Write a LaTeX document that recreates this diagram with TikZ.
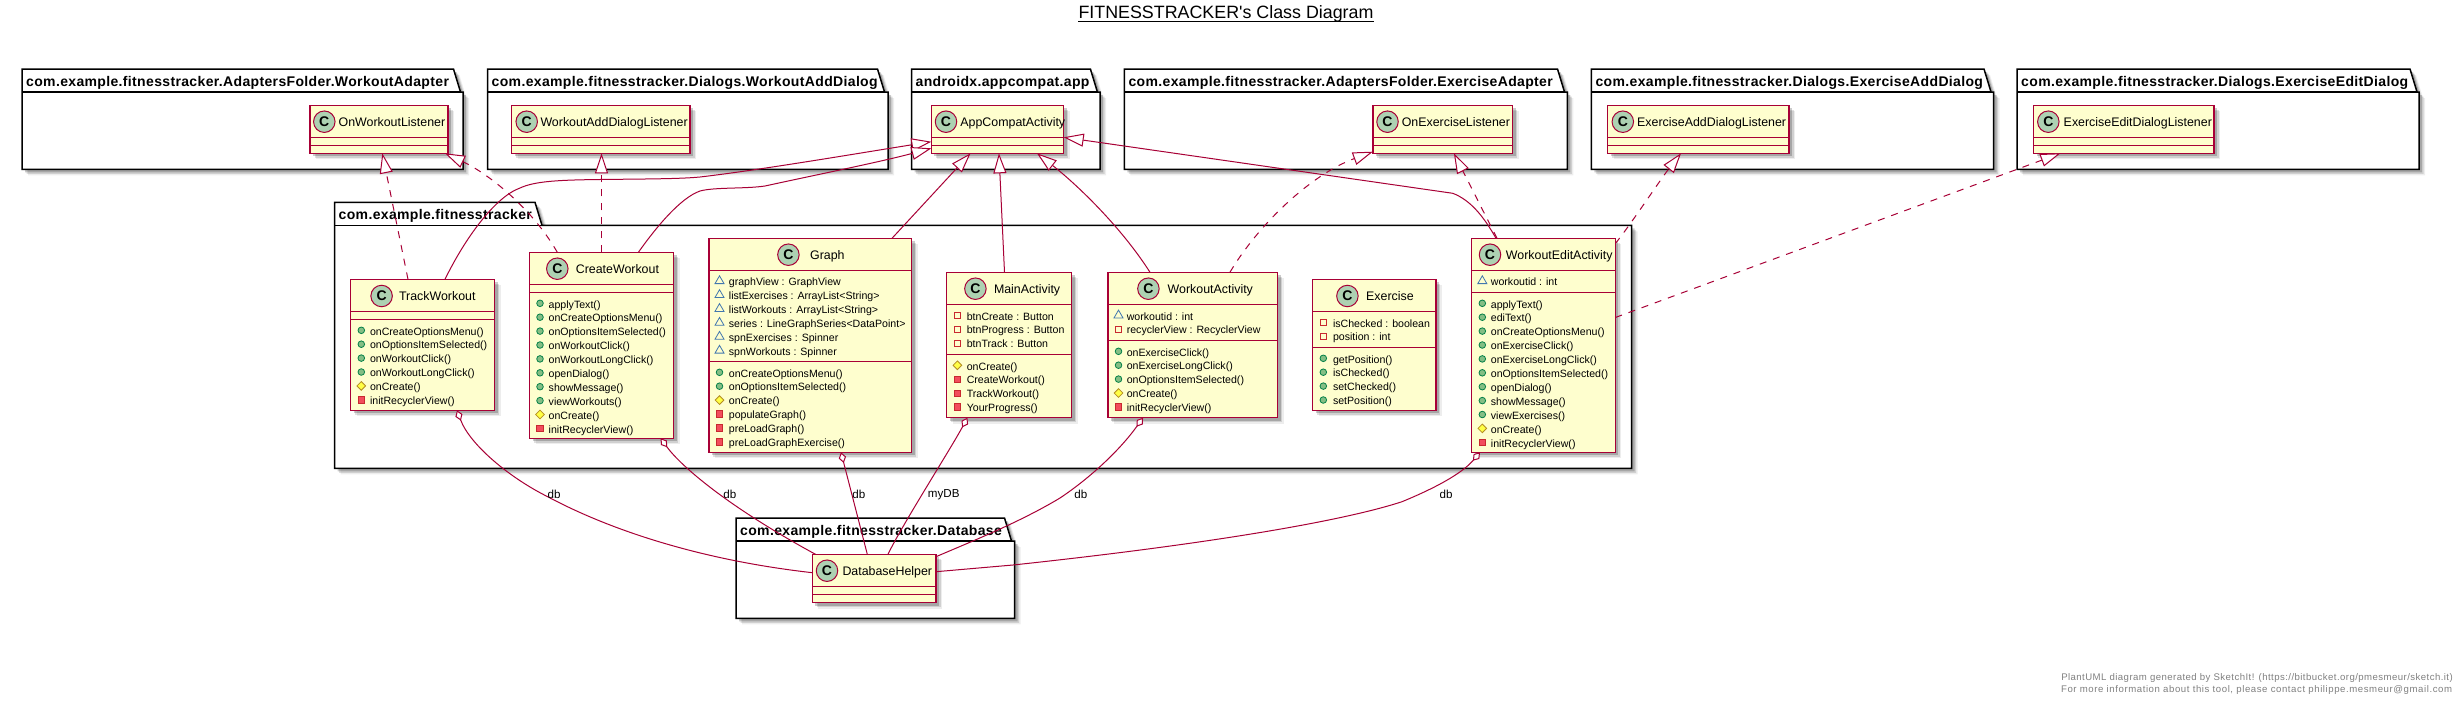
\documentclass[tikz,border=0pt]{standalone}
\usepackage{fontspec}
\setmainfont{Liberation Sans}
\newfontfamily\pkgfont[LetterSpace=2.5]{Liberation Sans}
\newfontfamily\footfont[LetterSpace=6]{Liberation Sans}
\newfontfamily\footfontb[LetterSpace=4.6]{Liberation Sans}
\usetikzlibrary{arrows.meta,shadows,fit,shapes.geometric}
\definecolor{crim}{HTML}{A80036}
\definecolor{clsfill}{HTML}{FEFECE}
\definecolor{spot}{HTML}{ADD1B2}
\tikzset{
  softshadow/.style={general shadow={shadow xshift=6pt,shadow yshift=-6pt,fill=black,opacity=.07},
    general shadow={shadow xshift=4.5pt,shadow yshift=-4.5pt,fill=black,opacity=.12},
    general shadow={shadow xshift=3pt,shadow yshift=-3pt,fill=black,opacity=.2}},
  pkgshape/.style={draw=black,line width=1.5pt,fill=white,line join=miter,softshadow},
  pkgrule/.style={draw=black,line width=1.5pt},
  pkglabel/.style={anchor=base west,inner sep=0pt,font=\fontsize{14}{16}\pkgfont\bfseries},
  classbox/.style={draw=crim,line width=1.5pt,fill=clsfill,inner sep=0pt,outer sep=0pt,softshadow},
  classrule/.style={draw=crim,line width=1.5pt},
  spoticon/.style={circle,draw=crim,line width=1pt,fill=spot,minimum size=21.5pt,inner sep=0pt,font=\fontsize{14}{16}\selectfont\bfseries},
  classtitle/.style={anchor=base west,inner sep=0pt,font=\fontsize{12.4}{14}\selectfont},
  memtext/.style={anchor=base west,inner sep=0pt,font=\fontsize{10.6}{12}\selectfont},
  linklabel/.style={inner sep=0pt,font=\fontsize{11.6}{13}\selectfont},
  iconpub/.style={circle,draw={rgb,255:red,3;green,128;blue,72},fill={rgb,255:red,132;green,190;blue,132},line width=.8pt,minimum size=6.6pt,inner sep=0pt},
  iconprot/.style={diamond,draw={rgb,255:red,179;green,141;blue,34},fill={rgb,255:red,255;green,255;blue,68},line width=.8pt,minimum size=9pt,inner sep=0pt},
  iconpriv/.style={rectangle,draw={rgb,255:red,200;green,41;blue,48},fill={rgb,255:red,242;green,77;blue,92},line width=.8pt,minimum size=6.4pt,inner sep=0pt},
  iconprivattr/.style={rectangle,draw={rgb,255:red,200;green,41;blue,48},line width=.8pt,minimum size=6.4pt,inner sep=0pt},
  iconpkg/.style={regular polygon,regular polygon sides=3,draw={rgb,255:red,65;green,119;blue,175},line width=.8pt,minimum size=10.4pt,inner sep=0pt},
  link/.style={draw=crim,line width=1pt},
  dashlink/.style={link,dash pattern=on 7pt off 7pt},
  ext/.style={-{Triangle[length=20pt,width=13pt,fill=white,line width=1pt,sep=0pt]}},
  agg/.style={{Diamond[length=11pt,width=7.5pt,fill=white,line width=1pt,sep=0pt]}-},
}
% package: name, x0, ytop, tab right, x1, y1, label
\newcommand{\pkgbox}[7]{%
  \draw[pkgshape] (#2,#3) -- (#4,#3) -- (#4+7,#3+23) -- (#5,#3+23) -- (#5,#6) -- (#2,#6) -- cycle;
  \draw[pkgrule] (#2,#3+23) -- (#4+7,#3+23);
  \node[pkglabel] (#1) at (#2+4,#3+17) {#7};
}
% class: name,x0,y0,x1,y1
\newcommand{\cls}[5]{\node[classbox,fit={(#2,#3)(#4,#5)}] (#1) {};}
\newcommand{\sepline}[2]{\draw[classrule] (#1.west |- 0,#2) -- (#1.east |- 0,#2);}
% head: name, circle x, centre y, title x, title
\newcommand{\heading}[5]{%
  \node[spoticon] (#1-spot) at (#2,#3) {C};
  \node[classtitle] (#1-title) at (#4,#3+4.3) {#5};
}
% members: name, icon x, text x, first centre y, list kind/text
\newcommand{\members}[5]{%
  \foreach \kd/\mtxt [count=\rr] in {#5} {
    \pgfmathsetmacro\yy{#4+(\rr-1)*13.9}
    \node[icon\kd] (#1-i\rr) at (#2,\yy-1) {};
    \node[memtext] (#1-t\rr) at (#3,\yy+3.7) {\mtxt};
  }
}
\begin{document}
\begin{tikzpicture}[x=1pt,y=-1pt]
\useasboundingbox (0,0) rectangle (2464,704);
\fill[white] (0,0) rectangle (2464,704);

\node[anchor=base,inner sep=0pt,font=\fontsize{17.85}{20}\selectfont] (title) at (1226,18.5) {FITNESSTRACKER\textquotesingle s Class Diagram};
\draw[line width=1pt] ([yshift=-3pt]title.base west) -- ([yshift=-3pt]title.base east);

% packages
\pkgbox{pA}{22}{69}{453.5}{463}{169.3}{com.example.fitnesstracker.AdaptersFolder.WorkoutAdapter}
\pkgbox{pB}{487.5}{69}{877.5}{888}{169.3}{com.example.fitnesstracker.Dialogs.WorkoutAddDialog}
\pkgbox{pC}{911.5}{69}{1090.4}{1100}{169.3}{androidx.appcompat.app}
\pkgbox{pD}{1124.4}{69}{1557.5}{1567.4}{169.3}{com.example.fitnesstracker.AdaptersFolder.ExerciseAdapter}
\pkgbox{pE}{1591.4}{69}{1984}{1993.6}{169.3}{com.example.fitnesstracker.Dialogs.ExerciseAddDialog}
\pkgbox{pF}{2017}{69}{2410}{2419}{169.3}{com.example.fitnesstracker.Dialogs.ExerciseEditDialog}
\pkgbox{pM}{334.5}{202.3}{535}{1631.7}{468.3}{com.example.fitnesstracker}
\pkgbox{pG}{736}{518}{1004.5}{1014.7}{618.3}{com.example.fitnesstracker.Database}

% top classes
\cls{owl}{310}{105.3}{448}{153.3}\sepline{owl}{137.3}\sepline{owl}{145.3}
\heading{owl}{324.3}{121.7}{338.4}{OnWorkoutListener}
\cls{wadl}{511.5}{105.3}{690}{153.3}\sepline{wadl}{137.3}\sepline{wadl}{145.3}
\heading{wadl}{526.7}{121.7}{540.3}{WorkoutAddDialogListener}
\cls{aca}{931.4}{105.3}{1063.7}{153.3}\sepline{aca}{137.3}\sepline{aca}{145.3}
\heading{aca}{946}{121.7}{960.2}{AppCompatActivity}
\cls{oel}{1372.8}{105.3}{1512.5}{153.3}\sepline{oel}{137.3}\sepline{oel}{145.3}
\heading{oel}{1387.5}{121.7}{1401.6}{OnExerciseListener}
\cls{eadl}{1607.7}{105.3}{1789}{153.3}\sepline{eadl}{137.3}\sepline{eadl}{145.3}
\heading{eadl}{1622.8}{121.7}{1637}{ExerciseAddDialogListener}
\cls{eedl}{2033.6}{105.3}{2214}{153.3}\sepline{eedl}{137.3}\sepline{eedl}{145.3}
\heading{eedl}{2048.3}{121.7}{2063.5}{ExerciseEditDialogListener}

% main package classes
\cls{track}{350.6}{279.3}{494.5}{410.3}\sepline{track}{311.3}\sepline{track}{319.7}
\heading{track}{381.6}{296}{398.8}{TrackWorkout}
\members{track}{361.3}{369.8}{331.3}{pub/onCreateOptionsMenu(),pub/onOptionsItemSelected(),pub/onWorkoutClick(),pub/onWorkoutLongClick(),prot/onCreate(),priv/initRecyclerView()}

\cls{create}{529.7}{252.3}{673.6}{438.3}\sepline{create}{284.3}\sepline{create}{292.7}
\heading{create}{557.3}{268.7}{575.6}{CreateWorkout}
\members{create}{540}{548.5}{304.3}{pub/applyText(),pub/onCreateOptionsMenu(),pub/onOptionsItemSelected(),pub/onWorkoutClick(),pub/onWorkoutLongClick(),pub/openDialog(),pub/showMessage(),pub/viewWorkouts(),prot/onCreate(),priv/initRecyclerView()}

\cls{graph}{708.8}{238.3}{911.7}{452.3}\sepline{graph}{270.3}\sepline{graph}{361.7}
\heading{graph}{788.4}{254.7}{809.9}{Graph}
\members{graph}{719.5}{728.7}{282}{pkg/graphView : GraphView,pkg/listExercises : ArrayList<String>,pkg/listWorkouts : ArrayList<String>,pkg/series : LineGraphSeries<DataPoint>,pkg/spnExercises : Spinner,pkg/spnWorkouts : Spinner}
\members{graph-m}{719.5}{728.7}{373.3}{pub/onCreateOptionsMenu(),pub/onOptionsItemSelected(),prot/onCreate(),priv/populateGraph(),priv/preLoadGraph(),priv/preLoadGraphExercise()}

\cls{main}{946.7}{272.3}{1071.5}{417.7}\sepline{main}{304.3}\sepline{main}{354.3}
\heading{main}{975.4}{288.7}{993.8}{MainActivity}
\members{main}{957.4}{966.6}{316.3}{privattr/btnCreate : Button,privattr/btnProgress : Button,privattr/btnTrack : Button}
\members{main-m}{957.4}{966.6}{366.3}{prot/onCreate(),priv/CreateWorkout(),priv/TrackWorkout(),priv/YourProgress()}

\cls{wact}{1107.8}{272.3}{1277.7}{417.7}\sepline{wact}{304.3}\sepline{wact}{340.7}
\heading{wact}{1148.4}{288.7}{1167.5}{WorkoutActivity}
\members{wact}{1118.5}{1126.6}{316.3}{pkg/workoutid : int,privattr/recyclerView : RecyclerView}
\members{wact-m}{1118.5}{1126.6}{352.3}{pub/onExerciseClick(),pub/onExerciseLongClick(),pub/onOptionsItemSelected(),prot/onCreate(),priv/initRecyclerView()}

\cls{exer}{1312.5}{279.3}{1435.8}{410.3}\sepline{exer}{311.3}\sepline{exer}{347.7}
\heading{exer}{1347.4}{296}{1366}{Exercise}
\members{exer}{1323.3}{1332.8}{323.3}{privattr/isChecked : boolean,privattr/position : int}
\members{exer-m}{1323.3}{1332.8}{359.3}{pub/getPosition(),pub/isChecked(),pub/setChecked(),pub/setPosition()}

\cls{wedit}{1471.7}{238.3}{1615.3}{452.3}\sepline{wedit}{270.3}\sepline{wedit}{292.3}
\heading{wedit}{1490}{254.7}{1505.7}{WorkoutEditActivity}
\members{wedit}{1482.3}{1490.7}{282}{pkg/workoutid : int}
\members{wedit-m}{1482.3}{1490.7}{304.3}{pub/applyText(),pub/ediText(),pub/onCreateOptionsMenu(),pub/onExerciseClick(),pub/onExerciseLongClick(),pub/onOptionsItemSelected(),pub/openDialog(),pub/showMessage(),pub/viewExercises(),prot/onCreate(),priv/initRecyclerView()}

\cls{db}{812.4}{554.3}{936}{602.7}\sepline{db}{586.7}\sepline{db}{594.7}
\heading{db}{827}{570.7}{842.3}{DatabaseHelper}

% realisation / inheritance
\draw[dashlink,ext] ([xshift=-14.55pt]track.north) -- ([xshift=3.3pt]owl.south);
\draw[dashlink,ext] ([xshift=-44.35pt]create.north) .. controls ++(-27,-47) and (485,172) .. ([xshift=-3pt]owl.south east);
\draw[dashlink,ext] ([xshift=-0.15pt]create.north) -- ([xshift=0.75pt]wadl.south);
\draw[link,ext] ([xshift=22.45pt]track.north) .. controls ++(20,-41) and (495,197) .. (520,188) .. controls (535,181) and (560,180) .. (600,179.5) .. controls (640,179) and (680,179) .. (700,177) .. controls (760,170) and (860,153) .. ([yshift=11.6pt]aca.south west);
\draw[link,ext] ([xshift=36.75pt]create.north) .. controls ++(17,-24) and (680,198) .. (700,191) .. controls (715,187) and (745,189) .. (765,186) .. controls (820,174) and (880,162) .. ([yshift=5pt]aca.south west);
\draw[link,ext] ([xshift=81.75pt]graph.north) -- ([xshift=-27pt]aca.south);
\draw[link,ext] ([xshift=-4.6pt]main.north) -- ([xshift=1.4pt]aca.south);
\draw[link,ext] ([xshift=-42.75pt]wact.north) .. controls ++(-30,-47) and (1075,183) .. ([xshift=-26.7pt]aca.south east);
\draw[dashlink,ext] ([xshift=37.15pt]wact.north) .. controls ++(28,-47) and (1310,175) .. ([yshift=1.6pt]oel.south west);
\draw[link,ext] ([xshift=-47.5pt]wedit.north) .. controls ++(-13,-23) and (1470,200) .. (1452.8,193.3) -- ([yshift=16pt]aca.south east);
\draw[dashlink,ext] ([xshift=-46.5pt]wedit.north) -- ([xshift=11.25pt]oel.south);
\draw[dashlink,ext] ([yshift=-5.2pt]wedit.north east) .. controls ++(13,-15.5) and (1660,180) .. ([xshift=-17.35pt]eadl.south);
\draw[dashlink,ext] ([yshift=27.8pt]wedit.east) -- ([xshift=-63.4pt]eedl.south);

% aggregation to the database helper
\draw[link,agg] ([xshift=34.45pt]track.south) .. controls (470,445) and (510,478) .. (547.7,496.7) .. controls (610,530) and (700,560) .. ([yshift=5.8pt]db.west);
\draw[link,agg] ([xshift=59pt]create.south) .. controls (680,465) and (725,505) .. ([xshift=-58.7pt]db.north);
\draw[link,agg] ([xshift=30.75pt]graph.south) -- ([xshift=-6.9pt]db.north);
\draw[link,agg] ([xshift=-41.7pt]main.south) .. controls (950,450) and (905,520) .. ([xshift=13.7pt]db.north);
\draw[link,agg] ([xshift=-49.75pt]wact.south) .. controls (1120,450) and (1090,478) .. (1060,498) .. controls (1020,522) and (975,540) .. ([yshift=-2.4pt]db.north east);
\draw[link,agg] ([xshift=-63.5pt]wedit.south) .. controls (1465,470) and (1445,484) .. (1402,501.7) .. controls (1340,522) and (1200,545) .. (1013,565) -- ([yshift=6.8pt]db.east);

\node[linklabel] (l1) at (554,494.7) {db};
\node[linklabel] (l2) at (729.8,494.7) {db};
\node[linklabel] (l3) at (858.8,494.7) {db};
\node[linklabel] (l4) at (943.7,494.7) {myDB};
\node[linklabel] (l5) at (1080.8,494.7) {db};
\node[linklabel] (l6) at (1446,494.7) {db};

\node[anchor=base east,inner sep=0pt,text=gray,font=\fontsize{9.6}{11}\footfontb] (f1) at (2453,680.3) {PlantUML diagram generated by SketchIt! (https://bitbucket.org/pmesmeur/sketch.it)};
\node[anchor=base east,inner sep=0pt,text=gray,font=\fontsize{9.6}{11}\footfont] (f2) at (2452.3,692.6) {For more information about this tool, please contact philippe.mesmeur@gmail.com};
\end{tikzpicture}
\end{document}
